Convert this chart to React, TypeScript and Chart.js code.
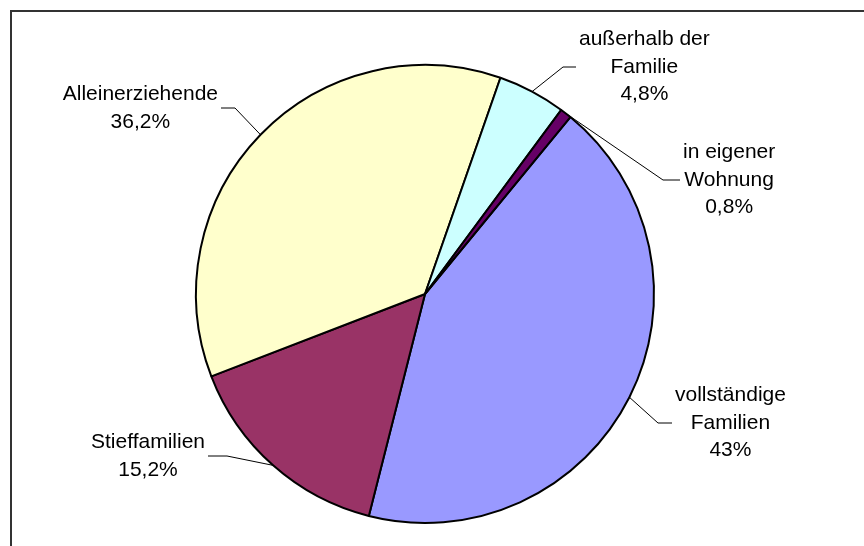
import React, { useEffect, useRef } from 'react';
import { Chart, registerables } from 'chart.js';

Chart.register(...registerables);

const categories = [
  'vollständige Familien',
  'Stieffamilien',
  'Alleinerziehende',
  'außerhalb der Familie',
  'in eigener Wohnung',
];
const shares = [43, 15.2, 36.2, 4.8, 0.8];
const labelLines = [
  ['vollständige', 'Familien'],
  ['Stieffamilien'],
  ['Alleinerziehende'],
  ['außerhalb der', 'Familie'],
  ['in eigener', 'Wohnung'],
];
const sliceColors = ['#9999FF', '#993366', '#FFFFCC', '#CCFFFF', '#660066'];

// label placement: elbow offset from pie centre, side of label, horizontal leader length
const labelLayout = [
  { dx: 233, dy: 129, side: 1, seg: 14 },
  { dx: -198, dy: 162, side: -1, seg: 19 },
  { dx: -190, dy: -186, side: -1, seg: 14 },
  { dx: 138, dy: -227, side: 1, seg: 13 },
  { dx: 238, dy: -114, side: 1, seg: 17 },
];

const FONT = "21px 'Liberation Sans', Arial, sans-serif";
const LINE_H = 27.5;

const fmtPct = (v: number) => String(v).replace('.', ',') + '%';

const labelPlugin = {
  id: 'pieLabels',
  beforeDraw(chart: any) {
    const ctx = chart.ctx;
    ctx.save();
    ctx.strokeStyle = '#333333';
    ctx.lineWidth = 2;
    ctx.beginPath();
    ctx.moveTo(11, chart.height);
    ctx.lineTo(11, 11);
    ctx.lineTo(chart.width, 11);
    ctx.stroke();
    ctx.restore();
  },
  afterDatasetsDraw(chart: any) {
    const ctx = chart.ctx;
    const meta = chart.getDatasetMeta(0);
    ctx.save();
    ctx.font = FONT;
    ctx.fillStyle = '#000';
    ctx.strokeStyle = '#000';
    ctx.lineWidth = 1;
    ctx.textAlign = 'center';
    ctx.textBaseline = 'middle';
    meta.data.forEach((arc: any, i: number) => {
      const { x, y, startAngle, endAngle, outerRadius } = arc.getProps(
        ['x', 'y', 'startAngle', 'endAngle', 'outerRadius'],
        true
      );
      const mid = (startAngle + endAngle) / 2;
      const ex = x + Math.cos(mid) * outerRadius;
      const ey = y + Math.sin(mid) * outerRadius;
      const lay = labelLayout[i];
      const bx = x + lay.dx;
      const by = y + lay.dy;
      const endX = bx + lay.side * lay.seg;
      ctx.beginPath();
      ctx.moveTo(ex, ey);
      ctx.lineTo(bx, by);
      ctx.lineTo(endX, by);
      ctx.stroke();
      const lines = [...labelLines[i], fmtPct(shares[i])];
      const maxW = Math.max(...lines.map((l) => ctx.measureText(l).width));
      const cx = endX + lay.side * (3 + maxW / 2);
      const n = lines.length;
      lines.forEach((l, k) => {
        ctx.fillText(l, cx, by + (k - (n - 1) / 2) * LINE_H);
      });
    });
    ctx.restore();
  },
};

export default function App() {
  const ref = useRef<HTMLCanvasElement | null>(null);
  useEffect(() => {
    if (!ref.current) return;
    const chart = new Chart(ref.current, {
      type: 'pie',
      data: {
        labels: categories,
        datasets: [
          {
            data: shares,
            backgroundColor: sliceColors,
            borderColor: '#000000',
            borderWidth: 2,
          },
        ],
      },
      options: {
        responsive: false,
        animation: false,
        rotation: 39.4,
        layout: { padding: { left: 195, right: 209, top: 64, bottom: 22 } },
        plugins: {
          legend: { display: false },
          tooltip: { enabled: false },
        },
      },
      plugins: [labelPlugin],
    });
    return () => chart.destroy();
  }, []);
  return (
    <div style={{ position: 'absolute', left: 0, top: 0, width: 864, height: 546, background: '#fff' }}>
      <canvas ref={ref} width={864} height={546} />
    </div>
  );
}
